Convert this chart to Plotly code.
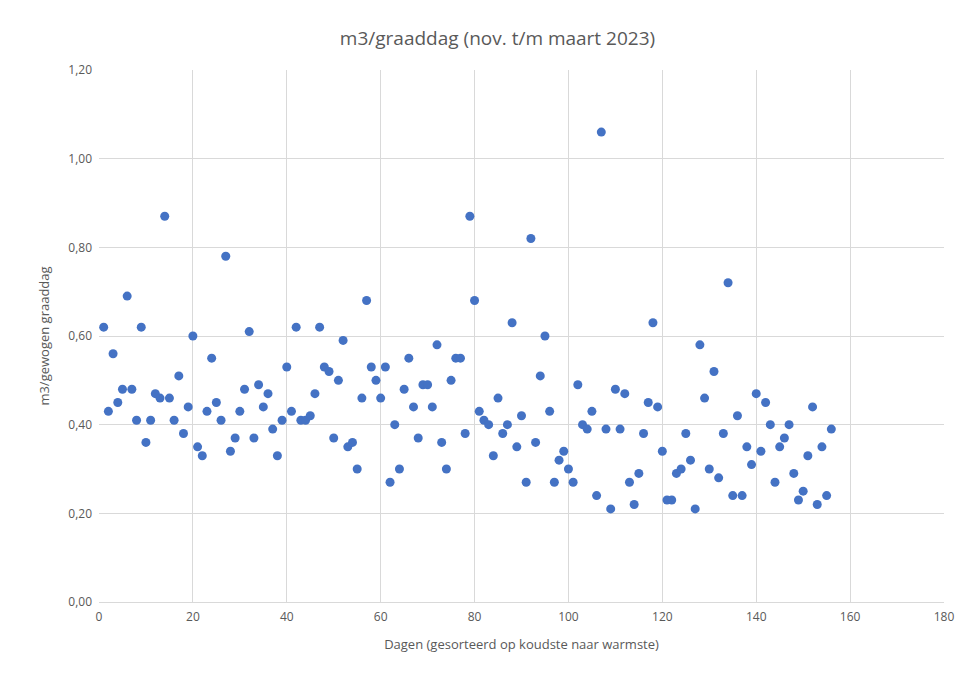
import plotly.graph_objects as go

days = list(range(1, 157))
values = [0.62,0.43,0.56,0.45,0.48,0.69,0.48,0.41,0.62,0.36,0.41,0.47,0.46,0.87,0.46,0.41,0.51,0.38,0.44,0.60,
0.35,0.33,0.43,0.55,0.45,0.41,0.78,0.34,0.37,0.43,0.48,0.61,0.37,0.49,0.44,0.47,0.39,0.33,0.41,0.53,
0.43,0.62,0.41,0.41,0.42,0.47,0.62,0.53,0.52,0.37,0.50,0.59,0.35,0.36,0.30,0.46,0.68,0.53,0.50,0.46,
0.53,0.27,0.40,0.30,0.48,0.55,0.44,0.37,0.49,0.49,0.44,0.58,0.36,0.30,0.50,0.55,0.55,0.38,0.87,0.68,
0.43,0.41,0.40,0.33,0.46,0.38,0.40,0.63,0.35,0.42,0.27,0.82,0.36,0.51,0.60,0.43,0.27,0.32,0.34,0.30,
0.27,0.49,0.40,0.39,0.43,0.24,1.06,0.39,0.21,0.48,0.39,0.47,0.27,0.22,0.29,0.38,0.45,0.63,0.44,0.34,
0.23,0.23,0.29,0.30,0.38,0.32,0.21,0.58,0.46,0.30,0.52,0.28,0.38,0.72,0.24,0.42,0.24,0.35,0.31,0.47,
0.34,0.45,0.40,0.27,0.35,0.37,0.40,0.29,0.23,0.25,0.33,0.44,0.22,0.35,0.24,0.39]

fig = go.Figure(go.Scatter(x=days, y=values, mode="markers",
                           marker=dict(color="#4472C4", size=9)))
grid = "#D9D9D9"
fig.update_layout(
    width=979, height=684, paper_bgcolor="white", plot_bgcolor="white",
    font=dict(family="Open Sans, Liberation Sans, sans-serif", color="#595959", size=12),
    title=dict(text="m3/graaddag (nov. t/m maart 2023)", x=0.5, y=0.965, xanchor="center",
               font=dict(size=19, color="#595959")),
    separators=",.",
    margin=dict(l=91, r=43, t=62, b=90),
    showlegend=False,
    xaxis=dict(range=[0, 180], dtick=20, showgrid=True, gridcolor=grid, zeroline=False,
               showline=True, linecolor=grid, ticks="", ticklabelstandoff=4,
               title=dict(text="Dagen (gesorteerd op koudste naar warmste)", font=dict(size=13))),
    yaxis=dict(range=[0, 1.2], dtick=0.2, tickformat=".2f", showgrid=True, gridcolor=grid,
               zeroline=False, showline=False, ticks="", ticklabelstandoff=6,
               title=dict(text="m3/gewogen graaddag", font=dict(size=13))),
)
fig.write_html("out.html")
